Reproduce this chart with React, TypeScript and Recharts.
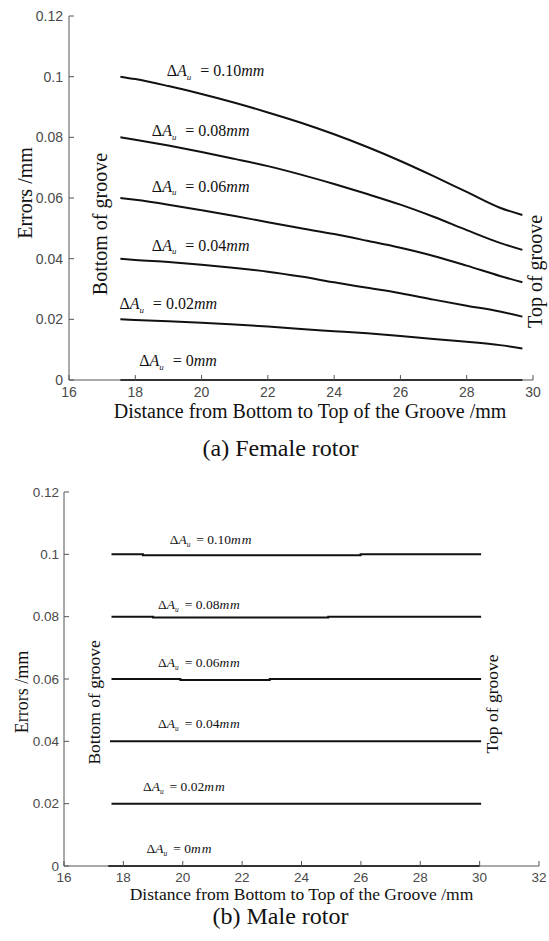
import { LineChart, Line, XAxis, YAxis, ReferenceDot, Label } from 'recharts';

// (a) Female rotor - errors along the groove for each ΔAu
const femaleX = [17.55, 18, 19, 20, 21, 22, 23, 24, 25, 26, 27, 28, 29, 29.68];
const female010 = [0.1, 0.0992, 0.0969, 0.0943, 0.0914, 0.0882, 0.0848, 0.081, 0.0768, 0.0722, 0.0672, 0.062, 0.0568, 0.0544];
const female008 = [0.08, 0.0792, 0.0773, 0.0752, 0.0729, 0.0705, 0.0677, 0.0646, 0.0613, 0.0578, 0.0538, 0.0494, 0.0452, 0.0429];
const female006 = [0.06, 0.0594, 0.0578, 0.056, 0.0541, 0.052, 0.05, 0.0481, 0.0459, 0.0436, 0.0409, 0.0377, 0.0343, 0.0322];
const female004 = [0.04, 0.0396, 0.0389, 0.038, 0.0369, 0.0357, 0.0341, 0.0322, 0.0304, 0.0286, 0.0265, 0.0245, 0.0226, 0.0209];
const female002 = [0.02, 0.0198, 0.0194, 0.0189, 0.0183, 0.0176, 0.0168, 0.0161, 0.0154, 0.0145, 0.0135, 0.0126, 0.0115, 0.0104];
const female000 = [0, 0, 0, 0, 0, 0, 0, 0, 0, 0, 0, 0, 0, 0];

// (b) Male rotor - nearly flat lines with tiny steps
const male010X = [17.6, 18.66, 18.66, 25.99, 25.99, 30.05];
const male010 = [0.1, 0.1, 0.0997, 0.0997, 0.1, 0.1];
const male008X = [17.6, 19.0, 19.0, 24.9, 24.9, 30.05];
const male008 = [0.08, 0.08, 0.0797, 0.0797, 0.08, 0.08];
const male006X = [17.6, 19.92, 19.92, 22.93, 22.93, 30.05];
const male006 = [0.06, 0.06, 0.0597, 0.0597, 0.06, 0.06];
const male004X = [17.55, 30.05];
const male004 = [0.04, 0.04];
const male002X = [17.6, 30.05];
const male002 = [0.02, 0.02];
const male000X = [17.49, 30.0];
const male000 = [0, 0];

const femaleTicksX = [16, 18, 20, 22, 24, 26, 28, 30];
const maleTicksX = [16, 18, 20, 22, 24, 26, 28, 30, 32];
const ticksY = [0, 0.02, 0.04, 0.06, 0.08, 0.1, 0.12];
const curveNames = ['0.10', '0.08', '0.06', '0.04', '0.02', '0'];

const zip = (xs: number[], ys: number[]) => xs.map((x, i) => ({ x, y: ys[i] }));

const serif = '"Liberation Serif", "Times New Roman", serif';
const sans = '"Liberation Sans", Arial, sans-serif';
const axisColor = '#555';
const lineColor = '#111';

const deltaLabel = (value: string, size: number, gap: number, mmSpacing: number) => (props: any) => {
  const { x, y } = props.viewBox;
  return (
    <text x={x} y={y} fontFamily={serif} fontSize={size} fill={lineColor}>
      <tspan fontFamily={serif}>Δ</tspan>
      <tspan fontFamily={serif} fontStyle="italic">A</tspan>
      <tspan fontFamily={serif} fontStyle="italic" fontSize={size * 0.55} dy={size * 0.22}>u</tspan>
      <tspan fontFamily={serif} dy={-size * 0.22} dx={gap}>= {value}</tspan>
      <tspan fontFamily={serif} fontStyle="italic" letterSpacing={mmSpacing}>mm</tspan>
    </text>
  );
};

const rotatedLabel = (text: string, size: number) => (props: any) => {
  const { x, y } = props.viewBox;
  return (
    <text
      x={x}
      y={y}
      transform={`rotate(-90 ${x} ${y})`}
      textAnchor="middle"
      dominantBaseline="central"
      fontFamily={serif}
      fontSize={size}
      fill={lineColor}
    >
      {text}
    </text>
  );
};

const tickStyleA = { fill: '#4a4a4a', fontSize: 14, fontFamily: sans };
const tickStyleB = { fill: '#4a4a4a', fontSize: 13.5, fontFamily: sans };

// label anchors in data units
const femaleLabelX = [18.95, 18.5, 18.5, 18.5, 17.52, 18.12];
const femaleLabelY = [0.1002, 0.0804, 0.0621, 0.0426, 0.0233, 0.0046];
const maleLabelX = [19.56, 19.17, 19.17, 19.17, 18.66, 18.78];
const maleLabelY = [0.1033, 0.0824, 0.0639, 0.0442, 0.0242, 0.0043];

const femaleSeries = [female010, female008, female006, female004, female002, female000];
const maleSeries = [
  zip(male010X, male010),
  zip(male008X, male008),
  zip(male006X, male006),
  zip(male004X, male004),
  zip(male002X, male002),
  zip(male000X, male000),
];

export default function App() {
  return (
    <div style={{ position: 'absolute', left: 0, top: 0, width: 549, height: 941, background: '#fff' }}>
      <div style={{ position: 'absolute', left: 0, top: 0 }}>
        <LineChart width={549} height={470} margin={{ top: 16, right: 16, bottom: 0, left: 0 }}>
          <XAxis
            type="number"
            dataKey="x"
            domain={[16, 30]}
            ticks={femaleTicksX}
            interval={0}
            allowDataOverflow
            height={90}
            tickSize={-5}
            tickMargin={12}
            stroke={axisColor}
            tick={tickStyleA}
          >
            <Label
              content={(p: any) => (
                <text
                  x={p.viewBox.x + p.viewBox.width / 2 + 9}
                  y={p.viewBox.y + 38}
                  textAnchor="middle"
                  fontFamily={serif}
                  fontSize={20}
                  fill={lineColor}
                >
                  Distance from Bottom to Top of the Groove /mm
                </text>
              )}
            />
          </XAxis>
          <YAxis
            type="number"
            domain={[0, 0.12]}
            ticks={ticksY}
            interval={0}
            width={69}
            tickSize={-5}
            tickMargin={11}
            stroke={axisColor}
            tick={tickStyleA}
          >
            <Label
              content={() => (
                <text
                  x={25}
                  y={193}
                  transform="rotate(-90 25 193)"
                  textAnchor="middle"
                  dominantBaseline="central"
                  fontFamily={serif}
                  fontSize={20}
                  fill={lineColor}
                >
                  Errors /mm
                </text>
              )}
            />
          </YAxis>
          {femaleSeries.map((ys, i) => (
            <Line
              key={curveNames[i]}
              data={zip(femaleX, ys)}
              dataKey="y"
              type="monotone"
              stroke={lineColor}
              strokeWidth={2}
              dot={false}
              isAnimationActive={false}
            />
          ))}
          {curveNames.map((name, i) => (
            <ReferenceDot
              key={'fl' + name}
              x={femaleLabelX[i]}
              y={femaleLabelY[i]}
              r={0}
              fill="none"
              stroke="none"
              ifOverflow="visible"
              label={deltaLabel(name, 16, 9, 0)}
            />
          ))}
          <ReferenceDot x={16.935} y={0.0514} r={0} fill="none" stroke="none" ifOverflow="visible" label={rotatedLabel('Bottom of groove', 20)} />
          <ReferenceDot x={30.06} y={0.0358} r={0} fill="none" stroke="none" ifOverflow="visible" label={rotatedLabel('Top of groove', 20)} />
        </LineChart>
      </div>
      <div style={{ position: 'absolute', left: 0, top: 436, width: 561, textAlign: 'center', fontFamily: serif, fontSize: 24, lineHeight: '24px', color: lineColor }}>
        (a) Female rotor
      </div>

      <div style={{ position: 'absolute', left: 0, top: 470 }}>
        <LineChart width={549} height={471} margin={{ top: 22, right: 10, bottom: 0, left: 0 }}>
          <XAxis
            type="number"
            dataKey="x"
            domain={[16, 32]}
            ticks={maleTicksX}
            interval={0}
            allowDataOverflow
            height={75}
            tickSize={-5}
            tickMargin={11}
            stroke={axisColor}
            tick={tickStyleB}
          >
            <Label
              content={(p: any) => (
                <text
                  x={p.viewBox.x + p.viewBox.width / 2}
                  y={p.viewBox.y + 34}
                  textAnchor="middle"
                  fontFamily={serif}
                  fontSize={17.5}
                  fill={lineColor}
                >
                  Distance from Bottom to Top of the Groove /mm
                </text>
              )}
            />
          </XAxis>
          <YAxis
            type="number"
            domain={[0, 0.12]}
            ticks={ticksY}
            interval={0}
            width={64}
            tickSize={-5}
            tickMargin={10}
            stroke={axisColor}
            tick={tickStyleB}
          >
            <Label
              content={() => (
                <text
                  x={22}
                  y={222}
                  transform="rotate(-90 22 222)"
                  textAnchor="middle"
                  dominantBaseline="central"
                  fontFamily={serif}
                  fontSize={18}
                  fill={lineColor}
                >
                  Errors /mm
                </text>
              )}
            />
          </YAxis>
          {maleSeries.map((pts, i) => (
            <Line
              key={curveNames[i]}
              data={pts}
              dataKey="y"
              type="linear"
              stroke={lineColor}
              strokeWidth={2}
              dot={false}
              isAnimationActive={false}
            />
          ))}
          {curveNames.map((name, i) => (
            <ReferenceDot
              key={'ml' + name}
              x={maleLabelX[i]}
              y={maleLabelY[i]}
              r={0}
              fill="none"
              stroke="none"
              ifOverflow="visible"
              label={deltaLabel(name, 13.5, 6, 1)}
            />
          ))}
          <ReferenceDot x={17.025} y={0.0525} r={0} fill="none" stroke="none" ifOverflow="visible" label={rotatedLabel('Bottom of groove', 17.5)} />
          <ReferenceDot x={30.405} y={0.052} r={0} fill="none" stroke="none" ifOverflow="visible" label={rotatedLabel('Top of groove', 17.5)} />
        </LineChart>
      </div>
      <div style={{ position: 'absolute', left: 0, top: 904, width: 561, textAlign: 'center', fontFamily: serif, fontSize: 24, lineHeight: '24px', color: lineColor }}>
        (b) Male rotor
      </div>
    </div>
  );
}
